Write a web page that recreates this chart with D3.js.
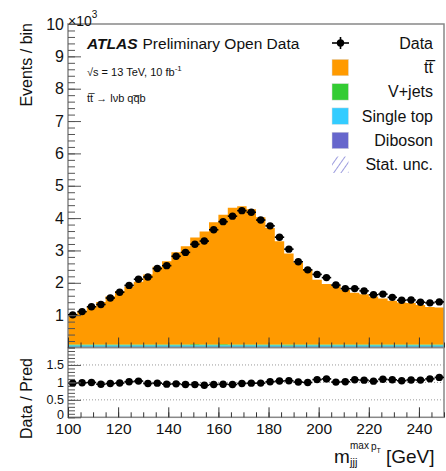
<!DOCTYPE html>
<html>
<head>
<meta charset="utf-8">
<script src="https://cdn.jsdelivr.net/npm/d3@7"></script>
<style>
  body { margin: 0; background: #fff; }
  svg text { font-family: "Liberation Sans", Arial, Helvetica, sans-serif; fill: #111; }
</style>
</head>
<body>
<svg id="chart" width="446" height="471"></svg>
<script>
// m_jjj bins: 40 bins of 3.75 GeV between 100 and 250 GeV, values in 10^3 events
const binLow = 100, binHigh = 250, nBins = 40;

const dataCounts = [
  1.01, 1.11, 1.26, 1.33, 1.53, 1.71, 1.92, 2.11, 2.18, 2.44,
  2.53, 2.82, 2.94, 3.19, 3.29, 3.64, 3.89, 4.06, 4.23, 4.18,
  3.94, 3.76, 3.41, 3.04, 2.65, 2.40, 2.26, 2.16, 1.93, 1.82,
  1.82, 1.75, 1.63, 1.65, 1.55, 1.46, 1.47, 1.40, 1.38, 1.41
];

const ttbar = [
  0.94, 1.03, 1.17, 1.31, 1.49, 1.65, 1.79, 1.94, 2.16, 2.40,
  2.57, 2.85, 3.04, 3.30, 3.49, 3.78, 4.00, 4.23, 4.27, 4.18,
  3.93, 3.60, 3.19, 2.81, 2.53, 2.31, 2.00, 1.87, 1.82, 1.69,
  1.60, 1.55, 1.48, 1.42, 1.35, 1.30, 1.28, 1.22, 1.16, 1.14
];

const vjets = [
  0.02, 0.02, 0.02, 0.02, 0.02, 0.02, 0.02, 0.02, 0.02, 0.02,
  0.02, 0.02, 0.02, 0.03, 0.02, 0.02, 0.03, 0.02, 0.02, 0.02,
  0.02, 0.02, 0.02, 0.03, 0.02, 0.02, 0.02, 0.02, 0.02, 0.02,
  0.02, 0.02, 0.02, 0.02, 0.02, 0.02, 0.02, 0.02, 0.02, 0.02
];

const singleTop = [
  0.07, 0.07, 0.07, 0.07, 0.07, 0.07, 0.07, 0.07, 0.07, 0.07,
  0.07, 0.07, 0.07, 0.07, 0.07, 0.07, 0.07, 0.07, 0.07, 0.07,
  0.07, 0.07, 0.07, 0.06, 0.07, 0.07, 0.07, 0.07, 0.07, 0.07,
  0.07, 0.07, 0.07, 0.07, 0.07, 0.07, 0.07, 0.07, 0.07, 0.07
];

const diboson = [
  0.003, 0.003, 0.003, 0.003, 0.003, 0.003, 0.003, 0.003, 0.003, 0.003,
  0.003, 0.003, 0.003, 0.003, 0.003, 0.003, 0.003, 0.003, 0.003, 0.003,
  0.003, 0.003, 0.003, 0.003, 0.003, 0.003, 0.003, 0.003, 0.003, 0.003,
  0.003, 0.003, 0.003, 0.003, 0.003, 0.003, 0.003, 0.003, 0.003, 0.003
];

const mainTicks = [1, 2, 3, 4, 5, 6, 7, 8, 9, 10];
const ratioTicks = [0, 0.5, 1, 1.5];
const xTicks = [100, 120, 140, 160, 180, 200, 220, 240];

const legendItems = [
  {label: 'Data', kind: 'data'},
  {label: 't\u0074\u0305', kind: 'box', color: '#ff9a00'},
  {label: 'V+jets', kind: 'box', color: '#33cc33'},
  {label: 'Single top', kind: 'box', color: '#33ccff'},
  {label: 'Diboson', kind: 'box', color: '#6666cc'},
  {label: 'Stat. unc.', kind: 'hatch'}
];

const colours = {ttbar: '#ff9a00', vjets: '#33cc33', singleTop: '#33ccff', diboson: '#6666cc'};

const svg = d3.select('#chart');
const binW = (binHigh - binLow) / nBins;

const x = d3.scaleLinear().domain([binLow, binHigh]).range([68, 444]);
const y = d3.scaleLinear().domain([0, 10]).range([347.5, 24]);
const yr = d3.scaleLinear().domain([0, 2]).range([417.3, 347.5]);

const bins = d3.range(nBins).map(i => ({
  lo: binLow + i * binW,
  hi: binLow + (i + 1) * binW,
  data: dataCounts[i],
  ttbar: ttbar[i],
  vjets: vjets[i],
  singleTop: singleTop[i],
  diboson: diboson[i]
}));
bins.forEach(b => { b.mc = b.ttbar + b.vjets + b.singleTop + b.diboson; });

// stacked MC, diboson at the bottom
const keys = ['diboson', 'singleTop', 'vjets', 'ttbar'];
const series = d3.stack().keys(keys)(bins);

const stepArea = d3.area()
  .curve(d3.curveStepAfter)
  .x(d => x(d.x))
  .y0(d => y(d.y0))
  .y1(d => y(d.y1));

const mainG = svg.append('g');
series.forEach(s => {
  const pts = s.map((d, i) => ({x: bins[i].lo, y0: d[0], y1: d[1]}));
  const last = s[s.length - 1];
  pts.push({x: binHigh, y0: last[0], y1: last[1]});
  mainG.append('path')
    .attr('d', stepArea(pts))
    .attr('fill', colours[s.key]);
});

// frame
svg.append('rect')
  .attr('x', 68).attr('y', 24)
  .attr('width', 444 - 68).attr('height', 347.5 - 24)
  .attr('fill', 'none').attr('stroke', '#888').attr('stroke-width', 1.5);
svg.append('rect')
  .attr('x', 68).attr('y', 347.5)
  .attr('width', 444 - 68).attr('height', 417.3 - 347.5)
  .attr('fill', 'none').attr('stroke', '#888').attr('stroke-width', 1.5);

// data points
function drawPoints(g, yScale, val) {
  const pts = g.selectAll('g.pt').data(bins).enter().append('g').attr('class', 'pt');
  pts.append('line')
    .attr('x1', d => x(d.lo)).attr('x2', d => x(d.hi))
    .attr('y1', d => yScale(val(d))).attr('y2', d => yScale(val(d)))
    .attr('stroke', '#000').attr('stroke-width', 1.6);
  pts.append('circle')
    .attr('cx', d => x((d.lo + d.hi) / 2))
    .attr('cy', d => yScale(val(d)))
    .attr('r', 3.7)
    .attr('fill', '#000');
}
drawPoints(svg.append('g'), y, d => d.data);

// ratio panel grid
const ratioG = svg.append('g');
ratioG.selectAll('line.grid').data([0.5, 1, 1.5]).enter().append('line')
  .attr('x1', 68).attr('x2', 444)
  .attr('y1', d => yr(d)).attr('y2', d => yr(d))
  .attr('stroke', '#999').attr('stroke-width', 1).attr('stroke-dasharray', '1,2');
drawPoints(ratioG, yr, d => d.data / d.mc);

// axes with inward ticks
function yAxis(scale, major, minorStep, fontSize) {
  const minor = d3.range(scale.domain()[0], scale.domain()[1] + 1e-9, minorStep);
  svg.append('g').attr('transform', 'translate(68,0)')
    .call(d3.axisLeft(scale).tickValues(minor).tickSizeInner(-7).tickSizeOuter(0).tickFormat(''))
    .call(g => g.select('.domain').remove())
    .call(g => g.selectAll('line').attr('stroke', '#555'));
  return svg.append('g').attr('transform', 'translate(68,0)')
    .call(d3.axisLeft(scale).tickValues(major).tickSizeInner(-13).tickSizeOuter(0).tickPadding(4).tickFormat(d => d))
    .call(g => g.select('.domain').remove())
    .call(g => g.selectAll('line').attr('stroke', '#555'))
    .call(g => g.selectAll('text').attr('font-size', fontSize).attr('fill', '#111'));
}
yAxis(y, mainTicks, 0.2, 16);
yAxis(yr, ratioTicks, 0.1, 12.5)
  .selectAll('text').filter(d => d === 0).attr('dy', '0.1em');

function xAxis(yPos, labels) {
  const minor = d3.range(binLow, binHigh + 1e-9, 5);
  svg.append('g').attr('transform', `translate(0,${yPos})`)
    .call(d3.axisBottom(x).tickValues(minor).tickSizeInner(-5).tickSizeOuter(0).tickFormat(''))
    .call(g => g.select('.domain').remove())
    .call(g => g.selectAll('line').attr('stroke', '#333'));
  svg.append('g').attr('transform', `translate(0,${yPos})`)
    .call(d3.axisBottom(x).tickValues(xTicks).tickSizeInner(-10).tickSizeOuter(0).tickPadding(6)
      .tickFormat(labels ? d => d : ''))
    .call(g => g.select('.domain').remove())
    .call(g => g.selectAll('line').attr('stroke', '#333'))
    .call(g => g.selectAll('text').attr('font-size', 15.5).attr('fill', '#111'));
}
xAxis(347.5, false);
xAxis(417.3, true);

// exponent
const expo = svg.append('text').attr('x', 68).attr('y', 26).attr('font-size', 14);
expo.append('tspan').text('\u00d710');
expo.append('tspan').attr('font-size', 10).attr('dy', -8).text('3');

// axis titles
svg.append('text')
  .attr('transform', 'translate(32,23) rotate(-90)')
  .attr('text-anchor', 'end').attr('font-size', 16)
  .text('Events / bin');
svg.append('text')
  .attr('transform', 'translate(32,358) rotate(-90)')
  .attr('text-anchor', 'end').attr('font-size', 16)
  .text('Data / Pred');

const xTitle = svg.append('g');
xTitle.append('text').attr('x', 334).attr('y', 463).attr('font-size', 19).text('m');
xTitle.append('text').attr('x', 350).attr('y', 466).attr('font-size', 11).text('jjj');
xTitle.append('text').attr('x', 350).attr('y', 449).attr('font-size', 10).text('max');
const pT = xTitle.append('text').attr('x', 371).attr('y', 450).attr('font-size', 10);
pT.append('tspan').text('p');
pT.append('tspan').attr('font-size', 7).attr('dy', 3).text('T');
xTitle.append('text').attr('x', 386).attr('y', 463).attr('font-size', 19).text('[GeV]');

// ATLAS label
const atl = svg.append('text').attr('x', 87).attr('y', 49).attr('font-size', 15.5);
atl.append('tspan').attr('font-weight', 'bold').attr('font-style', 'italic').text('ATLAS');
atl.append('tspan').attr('dx', 5).text('Preliminary Open Data');

const lumi = svg.append('text').attr('x', 87).attr('y', 76).attr('font-size', 11);
lumi.append('tspan').text('\u221as = 13 TeV, 10 fb');
lumi.append('tspan').attr('font-size', 8).attr('dy', -5).text('-1');

svg.append('text').attr('x', 87).attr('y', 102).attr('font-size', 11)
  .text('t\u0074\u0305 \u2192 l\u03bdb q\u0071\u0305b');

// legend
const defs = svg.append('defs');
const pat = defs.append('pattern').attr('id', 'hatch')
  .attr('width', 6).attr('height', 6).attr('patternUnits', 'userSpaceOnUse')
  .attr('patternTransform', 'rotate(35)');
pat.append('line').attr('x1', 0).attr('y1', 0).attr('x2', 0).attr('y2', 6)
  .attr('stroke', '#6666cc').attr('stroke-width', 1.3);

const leg = svg.append('g');
legendItems.forEach((d, i) => {
  const cy = 43 + i * 24.3;
  const g = leg.append('g');
  if (d.kind === 'data') {
    g.append('line').attr('x1', 332).attr('x2', 349).attr('y1', cy).attr('y2', cy).attr('stroke', '#000').attr('stroke-width', 1.6);
    g.append('line').attr('x1', 340.5).attr('x2', 340.5).attr('y1', cy - 6).attr('y2', cy + 6).attr('stroke', '#000').attr('stroke-width', 1.6);
    g.append('circle').attr('cx', 340.5).attr('cy', cy).attr('r', 3.7).attr('fill', '#000');
  } else if (d.kind === 'box') {
    g.append('rect').attr('x', 332).attr('y', cy - 8).attr('width', 16.5).attr('height', 16.5)
      .attr('fill', d.color).attr('stroke', '#ddd').attr('stroke-width', 0.5);
  } else {
    g.append('rect').attr('x', 332).attr('y', cy - 8).attr('width', 16.5).attr('height', 16.5)
      .attr('fill', 'url(#hatch)');
  }
  g.append('text').attr('x', 433).attr('y', cy).attr('dy', '0.36em')
    .attr('text-anchor', 'end').attr('font-size', 16).text(d.label);
});
</script>
</body>
</html>
